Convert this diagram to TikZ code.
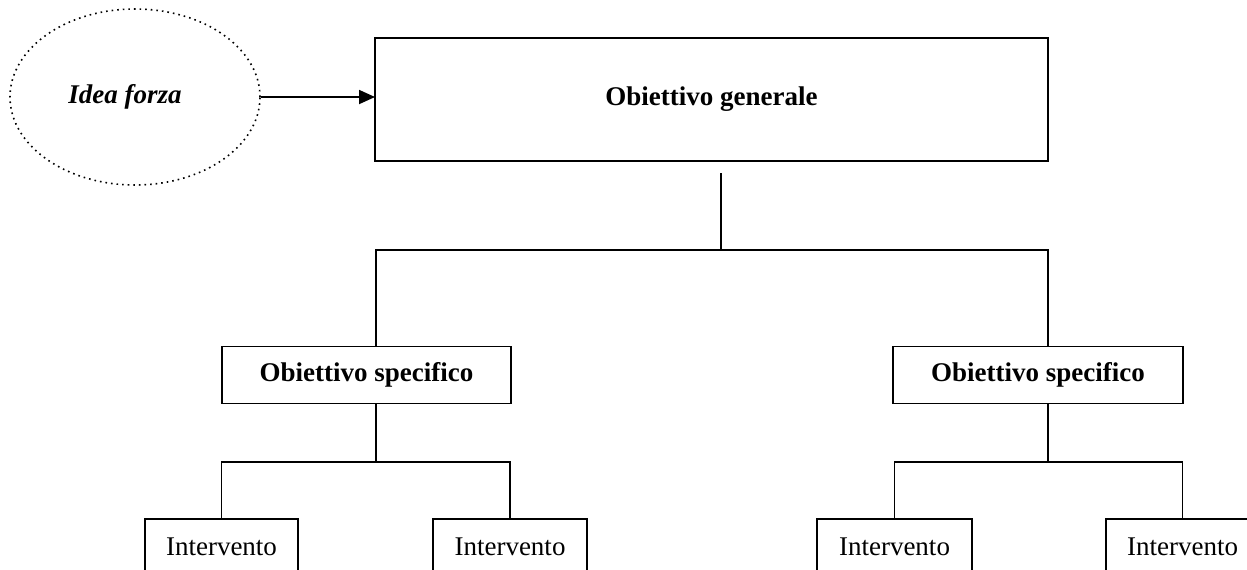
\documentclass[tikz,border=0pt]{standalone}
\usepackage{fontspec}
\setmainfont{Liberation Serif}
\usetikzlibrary{arrows.meta,shapes.geometric}

\tikzset{
  box/.style={draw, line width=0.9pt, inner sep=0pt, outer sep=0pt, font=\fontsize{13.5}{16}\selectfont},
  conn/.style={line width=0.9pt},
}

\begin{document}
\begin{tikzpicture}[x=0.5pt, y=-0.5pt]
          \useasboundingbox (0,0) rectangle (1247,569);
          \clip (0,0) rectangle (1247,569);
          % idea and general objective
          \node[ellipse, draw, dotted, line width=0.8pt, minimum width=125pt, minimum height=88pt,
            inner sep=0pt, font=\fontsize{13.5}{16}\selectfont\bfseries\itshape] (idea) at (135,97) {Idea forza\rule{10pt}{0pt}};
          \node[box, minimum width=336.5pt, minimum height=61.5pt, font=\fontsize{13.5}{16}\selectfont\bfseries]
            (gen) at (711.5,99.5) {Obiettivo generale};
          \draw[conn, -{Triangle[length=8pt,width=7pt]}] (idea.east) -- (idea.east -| gen.west);

          % specific objectives
          \node[box, minimum width=144.5pt, minimum height=28.5pt, font=\fontsize{13.5}{16}\selectfont\bfseries]
            (spec1) at (366.5,375) {Obiettivo specifico};
          \node[box, minimum width=145pt, minimum height=28.5pt, font=\fontsize{13.5}{16}\selectfont\bfseries]
            (spec2) at (1038,375) {Obiettivo specifico};

          % interventions
          \node[box, minimum width=76.5pt, minimum height=28pt] (int1) at (221.5,547) {Intervento};
          \node[box, minimum width=77pt, minimum height=28pt] (int2) at (510,547) {Intervento};
          \node[box, minimum width=77.5pt, minimum height=28pt] (int3) at (894.5,547) {Intervento};
          \node[box, minimum width=76.5pt, minimum height=28pt] (int4) at (1182.5,547) {Intervento};

          % tree lines
          \coordinate (gtail) at (721,173);
          \coordinate (hub) at (721,250);
          \coordinate (l1) at (376,250);
          \coordinate (r1) at (1048,250);
          \draw[conn] (gtail) -- (hub);
          \draw[conn] (l1 |- spec1.north) -- (l1) -- (r1) -- (r1 |- spec2.north);

          \coordinate (l2) at (376,462);
          \coordinate (r2) at (1048,462);
          \draw[conn] (l2 |- spec1.south) -- (l2);
          \draw[conn] (int1.north) |- (l2) -| (int2.north);
          \draw[conn] (r2 |- spec2.south) -- (r2);
          \draw[conn] (int3.north) |- (r2) -| (int4.north);
        \end{tikzpicture}
\end{document}
